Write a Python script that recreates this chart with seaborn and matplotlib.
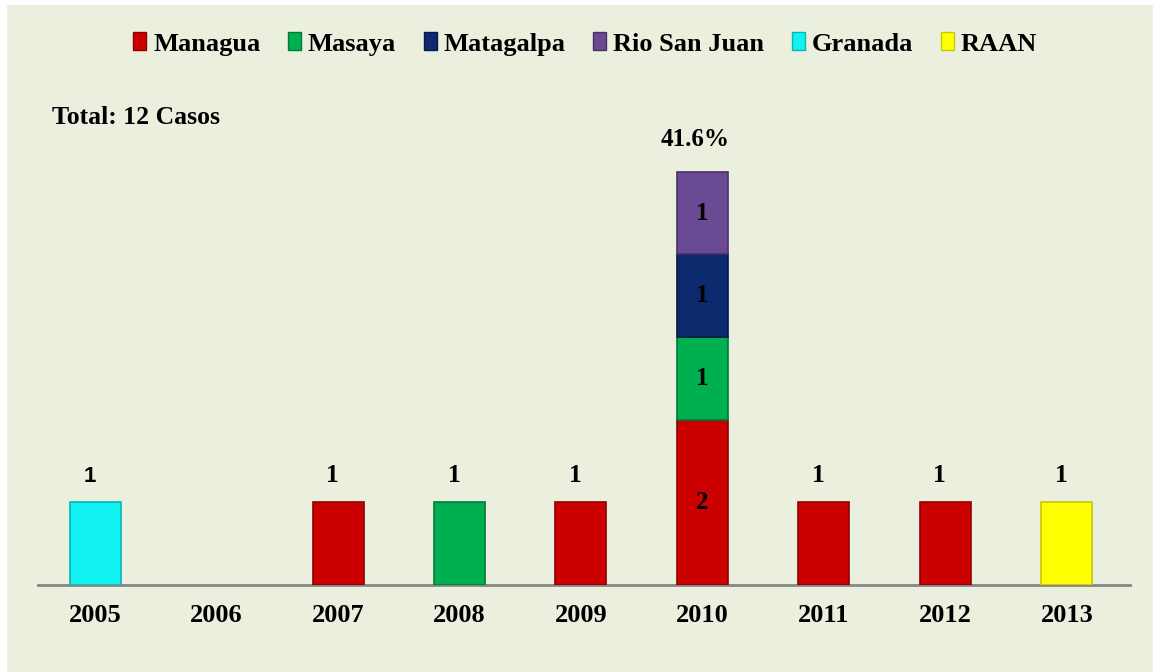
import numpy as np
import pandas as pd
import matplotlib
matplotlib.use("Agg")
import matplotlib.pyplot as plt
from matplotlib.patches import Rectangle, Patch
import seaborn as sns

# ---- data ----
years = ["2005", "2006", "2007", "2008", "2009", "2010", "2011", "2012", "2013"]
regions = ["Managua", "Masaya", "Matagalpa", "Rio San Juan", "Granada", "RAAN"]
managua = [0, 0, 1, 0, 1, 2, 1, 1, 0]
masaya = [0, 0, 0, 1, 0, 1, 0, 0, 0]
matagalpa = [0, 0, 0, 0, 0, 1, 0, 0, 0]
rio_san_juan = [0, 0, 0, 0, 0, 1, 0, 0, 0]
granada = [1, 0, 0, 0, 0, 0, 0, 0, 0]
raan = [0, 0, 0, 0, 0, 0, 0, 0, 1]
total_text = "Total: 12 Casos"
peak_year = "2010"
peak_text = "41.6%"

series = [managua, masaya, matagalpa, rio_san_juan, granada, raan]
colors = ["#CC0000", "#00B050", "#0D2A6E", "#6A4A92", "#12F2F2", "#FFFF00"]
edges = ["#8E0000", "#007A38", "#06184A", "#4A3068", "#0BB5B5", "#C8C800"]

sns.set_theme(style="white")
plt.rcParams["font.family"] = ["Liberation Serif", "DejaVu Serif"]
plt.rcParams["font.weight"] = "bold"
plt.rcParams["text.color"] = "black"
plt.rcParams["xtick.color"] = "black"

W, H = 1153, 672
fig = plt.figure(figsize=(W / 100, H / 100), dpi=100)
fig.patch.set_facecolor("white")
fig.add_artist(Rectangle((7 / W, 0), 1 - 7 / W, 1 - 5 / H, transform=fig.transFigure,
                         facecolor="#EBF0DE", edgecolor="none", zorder=0))

ax = fig.add_axes([38 / W, 1 - 585 / H, (1130 - 38) / W, (585 - 89) / H])
ax.set_facecolor("none")

# stacked bars via seaborn barplot with bottom offsets
bottom = np.zeros(len(years))
for name, vals, c, ec in zip(regions, series, colors, edges):
    vals = np.array(vals, dtype=float)
    mask = vals > 0
    df = pd.DataFrame({"year": np.array(years)[mask], "n": vals[mask]})
    sns.barplot(data=df, x="year", y="n", order=years, ax=ax, color=c,
                width=0.42, saturation=1, bottom=bottom[mask],
                edgecolor=ec, linewidth=1.2, errorbar=None, zorder=3)
    bottom = bottom + vals

totals = bottom
ax.set_xlim(-0.47, 8.52)
ax.set_ylim(0, 6)
for s in ["top", "right", "left"]:
    ax.spines[s].set_visible(False)
ax.spines["bottom"].set_color("#868686")
ax.spines["bottom"].set_linewidth(2)
ax.set_yticks([])
ax.set_xlabel("")
ax.set_ylabel("")
ax.tick_params(axis="x", length=0, pad=14, labelsize=19, labelcolor="black")
for lab in ax.get_xticklabels():
    lab.set_fontweight("bold")

# value labels
pi = years.index(peak_year)
for i, t in enumerate(totals):
    if t <= 0:
        continue
    if i == pi:
        ax.annotate(peak_text, (i, t), xytext=(-5, 15), textcoords="offset points",
                    ha="center", va="bottom", fontsize=18, fontweight="bold", color="black")
        cum = 0
        for vals in series:
            v = vals[i]
            if v > 0:
                ax.text(i, cum + v / 2, f"{v:g}", ha="center", va="center",
                        fontsize=18, fontweight="bold", color="black", zorder=5)
                cum += v
    else:
        kw = dict(family=["Liberation Sans"]) if i == 0 else {}
        ax.annotate(f"{t:g}", (i, t), xytext=(-4, 11), textcoords="offset points",
                    ha="center", va="bottom", fontsize=16 if i == 0 else 18.5,
                    fontweight="bold", color="black", **kw)

# total text
fig.text(52 / W, 1 - 118 / H, total_text, ha="left", va="center",
         fontsize=18.5, fontweight="bold", color="black")

# legend
handles = [Patch(facecolor=c, edgecolor=ec, linewidth=1) for c, ec in zip(colors, edges)]
leg = fig.legend(handles, regions, loc="center", bbox_to_anchor=(585 / W, 1 - 44 / H),
                 ncol=6, frameon=False, handlelength=0.5, handleheight=0.65,
                 handletextpad=0.25, columnspacing=1.05, prop={"weight": "bold", "size": 19})
for t in leg.get_texts():
    t.set_color("black")

fig.savefig("out.png", dpi=100, facecolor=fig.get_facecolor())
